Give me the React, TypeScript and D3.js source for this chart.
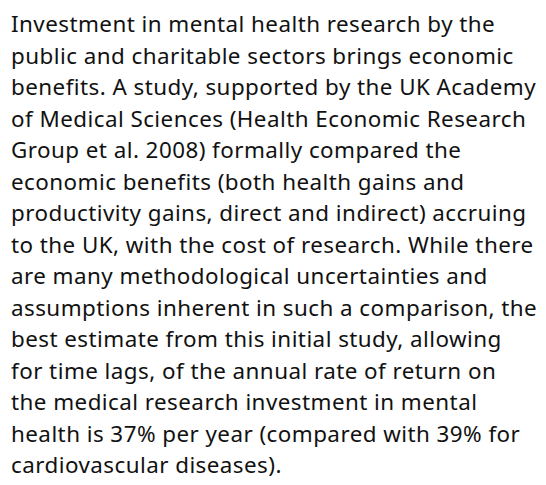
import React from "react";
import * as d3 from "d3";

// paragraph lines as broken in the original
const lines = [
  "Investment in mental health research by the",
  "public and charitable sectors brings economic",
  "benefits. A study, supported by the UK Academy",
  "of Medical Sciences (Health Economic Research",
  "Group et al. 2008) formally compared the",
  "economic benefits (both health gains and",
  "productivity gains, direct and indirect) accruing",
  "to the UK, with the cost of research. While there",
  "are many methodological uncertainties and",
  "assumptions inherent in such a comparison, the",
  "best estimate from this initial study, allowing",
  "for time lags, of the annual rate of return on",
  "the medical research investment in mental",
  "health is 37% per year (compared with 39% for",
  "cardiovascular diseases).",
];

const width = 546;
const height = 485;

export default function App() {
  const y = d3
    .scaleLinear()
    .domain([0, lines.length - 1])
    .range([32, 473]);

  return (
    <svg
      width={width}
      height={height}
      style={{ position: "absolute", left: 0, top: 0, background: "#fff" }}
    >
      <g
        fontFamily="'Noto Sans', sans-serif"
        fontSize={22.4}
        letterSpacing={0.45}
        fill="#111"
      >
        {lines.map((t, i) => (
          <text key={i} x={11} y={y(i)}>
            {t}
          </text>
        ))}
      </g>
    </svg>
  );
}
